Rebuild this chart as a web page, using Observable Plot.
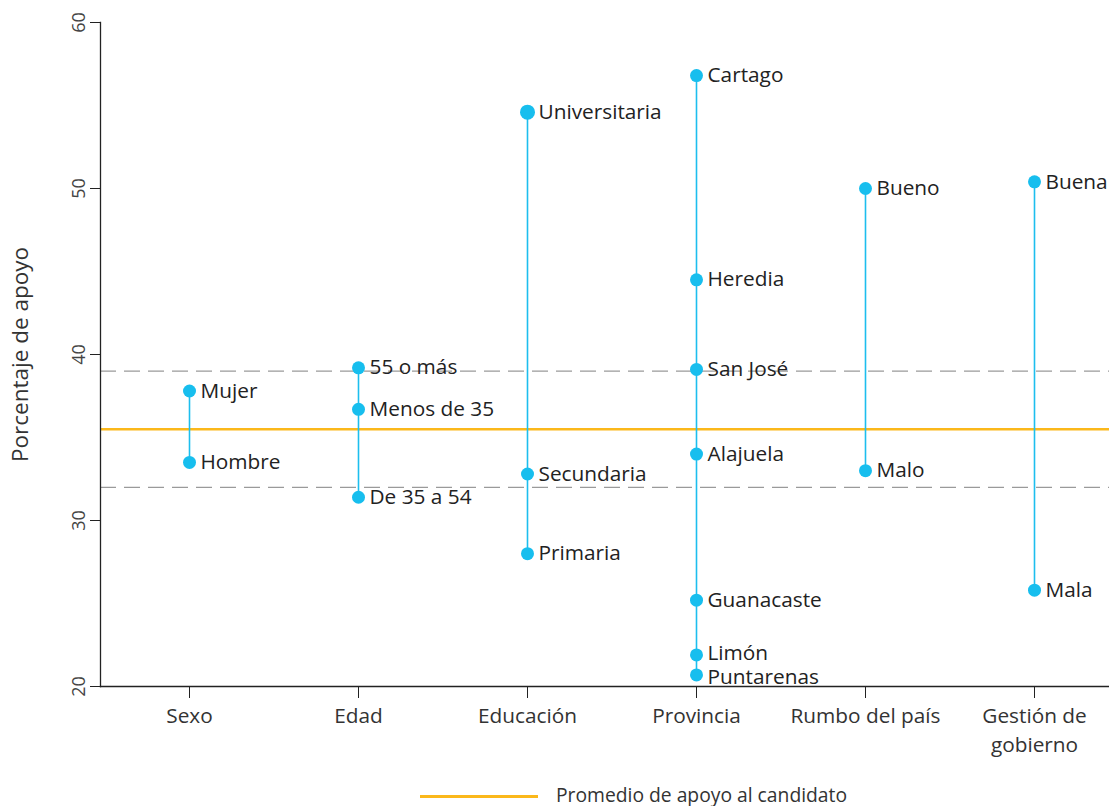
<!DOCTYPE html>
<html>
<head>
<meta charset="utf-8">
<script src="https://cdn.jsdelivr.net/npm/d3@7"></script>
<script src="https://cdn.jsdelivr.net/npm/@observablehq/plot@0.6"></script>
<style>
  html, body { margin: 0; padding: 0; background: #fff; overflow: hidden; }
  #legend { height: 24px; position: relative; font-family: "Open Sans", sans-serif; font-size: 19.3px; color: #333; }
  #legend .sw { position: absolute; left: 420px; top: 13px; width: 118px; height: 3px; background: #FBB81B; }
  #legend .lb { position: absolute; left: 556px; top: 2px; line-height: 22px; }
</style>
</head>
<body>
<div id="chart"></div>
<div id="legend"><span class="sw"></span><span class="lb">Promedio de apoyo al candidato</span></div>
<script>
const categories = ["Sexo", "Edad", "Educación", "Provincia", "Rumbo del país", "Gestión de gobierno"];
const groups = ["Sexo", "Sexo", "Edad", "Edad", "Edad", "Educación", "Educación", "Educación",
  "Provincia", "Provincia", "Provincia", "Provincia", "Provincia", "Provincia", "Provincia",
  "Rumbo del país", "Rumbo del país", "Gestión de gobierno", "Gestión de gobierno"];
const labels = ["Mujer", "Hombre", "55 o más", "Menos de 35", "De 35 a 54", "Universitaria", "Secundaria", "Primaria",
  "Cartago", "Heredia", "San José", "Alajuela", "Guanacaste", "Limón", "Puntarenas",
  "Bueno", "Malo", "Buena", "Mala"];
const values = [37.8, 33.5, 39.2, 36.7, 31.4, 54.6, 32.8, 28.0,
  56.8, 44.5, 39.1, 34.0, 25.2, 21.9, 20.7,
  50.0, 33.0, 50.4, 25.8];
const average = 35.5;
const bounds = [39.0, 32.0];
const yTicks = [20, 30, 40, 50, 60];

const rows = labels.map((l, i) => ({group: groups[i], label: l, value: values[i]}));
const ranges = categories.map(c => {
  const v = rows.filter(r => r.group === c).map(r => r.value);
  return {group: c, min: d3.min(v), max: d3.max(v)};
});
const nudge = d => d.label === "Limón" ? -2 : d.label === "Puntarenas" ? 2 : 0;

const chart = Plot.plot({
  width: 1109,
  height: 782,
  marginLeft: 100,
  marginRight: 0,
  marginTop: 22,
  marginBottom: 96,
  style: {fontFamily: "'Open Sans', sans-serif", fontSize: "20px", color: "#333", overflow: "visible"},
  x: {type: "point", domain: categories, range: [187, 1035], padding: 0},
  y: {domain: [20, 60], range: [686, 22]},
  marks: [
    Plot.ruleY(bounds, {y: d => d, stroke: "#9a9a9a", strokeWidth: 1.3, strokeDasharray: "16,8"}),
    Plot.ruleY([average], {y: d => d, stroke: "#FBB81B", strokeWidth: 2.5}),
    Plot.ruleX(ranges, {x: "group", y1: "min", y2: "max", stroke: "#1DBEEE", strokeWidth: 1.6}),
    Plot.dot(rows.filter(d => d.label !== "Universitaria"), {x: "group", y: "value", r: 6.5, fill: "#17BEEE"}),
    Plot.dot(rows.filter(d => d.label === "Universitaria"), {x: "group", y: "value", r: 7.5, fill: "#17BEEE"}),
    Plot.text(rows.filter(d => nudge(d) === 0), {x: "group", y: "value", text: "label", dx: 11, textAnchor: "start", fill: "#222", fontSize: 20.8}),
    Plot.text(rows.filter(d => d.label === "Limón"), {x: "group", y: "value", text: "label", dx: 11, dy: -2, textAnchor: "start", fill: "#222", fontSize: 20.8}),
    Plot.text(rows.filter(d => d.label === "Puntarenas"), {x: "group", y: "value", text: "label", dx: 11, dy: 2, textAnchor: "start", fill: "#222", fontSize: 20.8}),
    Plot.frame({anchor: "left", stroke: "#222", strokeWidth: 1.3}),
    Plot.frame({anchor: "bottom", stroke: "#222", strokeWidth: 1.3}),
    Plot.axisY({ticks: yTicks, tickSize: 10, tickPadding: 6, tickRotate: -90, fontSize: 18, fill: "#444",
      stroke: "#222", label: null}),
    Plot.text(["Porcentaje de apoyo"], {frameAnchor: "left", dx: -80, rotate: -90, fontSize: 22.5, fill: "#333", textAnchor: "middle"}),
    Plot.axisX({tickSize: 12, tickPadding: 3, fontSize: 20.8, fill: "#333", stroke: "#222", label: null, lineHeight: 1.43,
      tickFormat: d => d === "Gestión de gobierno" ? "Gestión de\ngobierno" : d})
  ]
});
document.getElementById("chart").appendChild(chart);
</script>
</body>
</html>
